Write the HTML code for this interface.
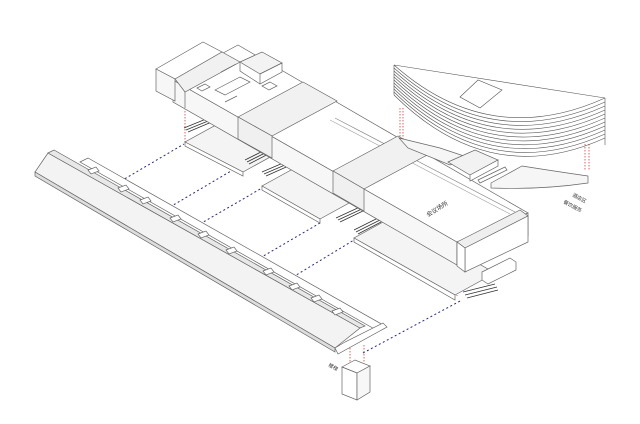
<!DOCTYPE html>
<html><head><meta charset="utf-8"><style>
html,body{margin:0;padding:0;background:#fff;}
svg{display:block;}
text{font-family:"Liberation Sans","Noto Sans CJK SC",sans-serif;}
</style></head><body>
<svg width="640" height="424" viewBox="0 0 640 424" xmlns="http://www.w3.org/2000/svg" fill="none" stroke="#666" stroke-width="0.7">
<g stroke="#2a2a7a" stroke-width="1" stroke-dasharray="2,2.5">
<path d="M121,181 L184,144"/>
<path d="M170,207 L231,171"/>
<path d="M200,224 L262,188"/>
<path d="M260,258 L320,223"/>
<path d="M293,277 L354,240"/>
<path d="M363,353 L462,300"/>
</g>
<g stroke="#d04040" stroke-width="0.8" stroke-dasharray="1.5,1.5">
<path d="M185,108 L185,142"/>
<path d="M457,265 L457,296"/>
<path d="M400,108 L400,140"/><path d="M403,108 L403,140"/>
<path d="M585,144 L585,170"/><path d="M589,144 L589,170"/>
<path d="M350,348 L350,365"/><path d="M364,345 L364,362"/>
</g>
<!-- slabs -->
<g fill="#f4f4f5">
<path d="M185,142 L243,172 L283,150 L225,120 Z"/>
<path d="M185,142 L243,172 L243,176 L185,146 Z" fill="#fff"/>
<path d="M262,186 L320,219 L360,197 L302,164 Z"/>
<path d="M262,186 L320,219 L320,223 L262,190 Z" fill="#fff"/>
<path d="M354,238 L455,295 L495,273 L394,216 Z"/>
<path d="M354,238 L455,295 L455,300 L354,242 Z" fill="#fff"/>
</g>
<g stroke="#333" stroke-width="0.8">
<path d="M184,128 L211,117 M186,130 L213,119 M188,132 L214,121"/>
<path d="M245,160 L275,145 M247,162 L277,147 M249,164 L278,149"/>
<path d="M262,172 L290,160 M264,174 L292,162 M266,176 L293,164"/>
<path d="M336,218 L362,206 M338,220 L364,208 M340,222 L365,210"/>
<path d="M354,230 L378,218 M356,232 L380,220 M358,234 L381,222"/>
<path d="M463,292 L495,284 M465,295 L497,287 M467,298 L498,290"/>
</g>
<!-- spine -->
<g fill="#fff">
<path d="M173,80 L457,242 L457,265 L173,102 Z" fill="#f7f7f8"/>
<path d="M173,80 L238,45 L528,213 L457,242 Z"/>
<path d="M457,242 L528,213 L528,236 L457,265 Z" fill="#fafafa"/>
<path d="M457,242 L520,210 L528,216 L465,248 Z" fill="#efefef"/>
<path d="M465,248 L528,216 L528,242 L465,272 Z"/>
<path d="M457,242 L465,248 L465,272 L457,266 Z"/>
<path d="M482,272 L510,258 L516,262 L516,270 L488,284 L482,280 Z"/>
<path d="M335,118 L515,212" stroke="#888"/>
<path d="M330,120 L510,214" stroke="#aaa"/>
<!-- cross bands -->
<path d="M238,117 L303,82 L337,101 L272,136 Z" fill="#f1f1f2"/>
<path d="M238,117 L238,139 L272,158 L272,136 Z" fill="#f0f0f1"/>
<path d="M333,171 L398,136 L429,154 L364,189 Z" fill="#f1f1f2"/>
<path d="M333,171 L333,193 L364,211 L364,189 Z" fill="#f0f0f1"/>
<!-- left block -->
<path d="M156,69 L203,42 L222,52 L175,79 Z"/>
<path d="M156,69 L175,79 L175,101 L156,91 Z" fill="#f7f7f7"/>
<path d="M175,79 L222,52 L240,62 L185,92 Z" fill="#f1f1f2"/>
<path d="M185,92 L185,108"/>
<path d="M240,62 L262,52 L282,63 L260,74 Z" fill="#f3f3f3"/>
<path d="M260,74 L282,63 L282,72 L260,84 Z"/>
<path d="M240,62 L240,71 L260,84"/>
<path d="M197,88 L205,84 L210,87 L202,91 Z M262,86 L270,82 L277,86 L269,90 Z M221,72 L236,64 M225,102 L237,96 M215,90 L240,77 L250,82 L225,95 Z"/>
</g>
<text x="0" y="0" font-size="6" fill="#333" stroke="none" transform="translate(428,217) rotate(-32)">会议场所</text>
<!-- long beam -->
<g fill="#f3f3f4">
<path d="M80,162 L88,158 L385,326 L378,331 Z" fill="#fff"/>
<path d="M48,153 L35,172 L335,348 L360,328 Z"/>
<path d="M48,153 L54,150 L365,326 L360,328 Z" fill="#e8e8e9"/>
<path d="M35,172 L35,176 L335,352 L335,348 Z" fill="#ddd"/>
<path d="M335,348 L345,342 L383,323 L387,327 L338,354 Z" fill="#fff"/>
</g>
<g fill="#fff">
<path d="M88,170 l8,-3 l3,4 l-8,3 Z M118,188 l8,-3 l3,4 l-8,3 Z M140,200 l8,-3 l3,4 l-8,3 Z M170,218 l8,-3 l3,4 l-8,3 Z M198,234 l8,-3 l3,4 l-8,3 Z M226,250 l8,-3 l3,4 l-8,3 Z M263,271 l8,-3 l3,4 l-8,3 Z M289,286 l8,-3 l3,4 l-8,3 Z M311,298 l8,-3 l3,4 l-8,3 Z M332,311 l8,-3 l3,4 l-8,3 Z"/>
</g>
<g fill="#fff">
<path d="M342,367 L355,360 L370,366 L357,373 Z"/>
<path d="M342,367 L357,373 L357,400 L342,394 Z"/>
<path d="M357,373 L370,366 L370,392 L357,400 Z" fill="#f7f7f7"/>
</g>
<text x="0" y="0" font-size="5" fill="#333" stroke="none" transform="translate(328,366) rotate(30)">楼梯</text>
<g stroke="#555" stroke-width="0.6">
<path d="M394,65 L605,98 M394,65 L394,95 M605,98 L605,145"/>
<path d="M394,65 Q490,150 605,98"/>
<path d="M394,68 Q490,154 605,102"/>
<path d="M394,71 Q490,158 605,106"/>
<path d="M394,74 Q490,162 605,110"/>
<path d="M394,77 Q490,166 605,114"/>
<path d="M394,80 Q490,170 605,118"/>
<path d="M394,83 Q490,174 605,122"/>
<path d="M394,86 Q490,178 605,126"/>
<path d="M394,89 Q490,182 605,130"/>
<path d="M394,92 Q490,186 605,134"/>
<path d="M394,95 Q490,190 605,138"/>
<path d="M460,97 L478,80 L502,90 L480,108 Z" fill="#fff"/>
</g>
<g fill="#fff">
<path d="M399,138 L440,148 L470,158 L450,165 L408,148 Z" fill="#f6f6f6"/>
<path d="M448,162 L475,150 L498,160 L470,175 Z" fill="#f2f2f2"/>
<path d="M470,175 L498,160 L498,166 L470,181 Z"/>
<path d="M478,180 L505,167 L507,170 L480,183 Z"/>
<path d="M491,183 L522,166 Q560,172 588,176 L588,183 Q540,190 491,188 Z" fill="#f6f6f6"/>
</g>
<text x="0" y="0" font-size="5" fill="#333" stroke="none" transform="translate(572,196) rotate(28)">酒店区</text>
<text x="0" y="0" font-size="5" fill="#333" stroke="none" transform="translate(563,203) rotate(28)">餐饮服务</text>
</svg>
</body></html>
